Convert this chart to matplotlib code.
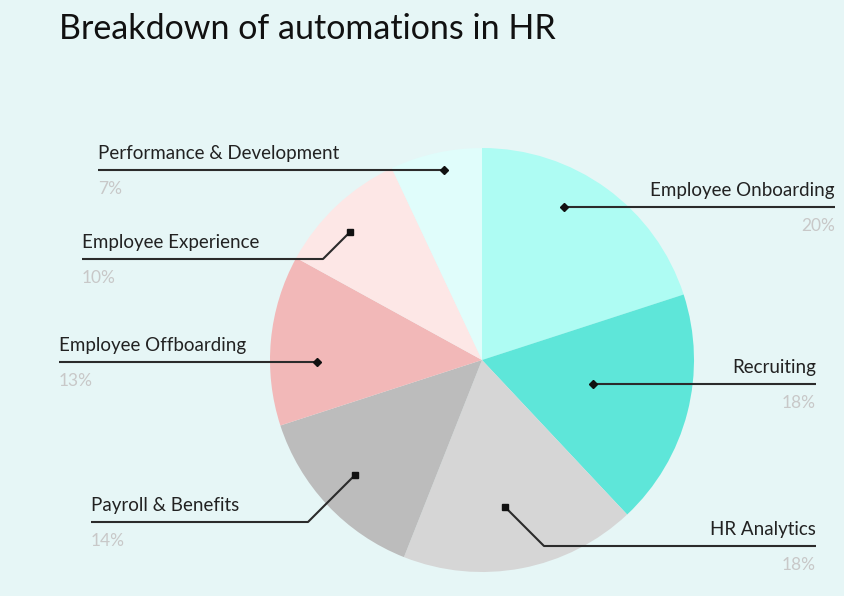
import matplotlib.pyplot as plt

labels = ["Employee Onboarding", "Recruiting", "HR Analytics", "Payroll & Benefits",
          "Employee Offboarding", "Employee Experience", "Performance & Development"]
shares = [20, 18, 18, 14, 13, 10, 7]
colors = ["#aefcf3", "#5ee6d9", "#d6d6d6", "#bcbcbc", "#f2b8b8", "#fde7e6", "#e0fdfb"]

W, H = 844, 596
BG = "#e6f6f6"


def py(y):
    # pixel row (top-down) -> axes y (bottom-up)
    return H - y


# annotation layout: marker xy, line y, text end x, side, marker style
callouts = {
    "Employee Onboarding": dict(mk=(564, 207), ly=207, tx=835, side="right", m="D"),
    "Recruiting": dict(mk=(593, 384), ly=384, tx=816, side="right", m="D"),
    "HR Analytics": dict(mk=(505, 507), ly=546, tx=816, side="right", m="s"),
    "Payroll & Benefits": dict(mk=(355, 475), ly=522, tx=91, side="left", m="s"),
    "Employee Offboarding": dict(mk=(317, 362), ly=362, tx=59, side="left", m="D"),
    "Employee Experience": dict(mk=(350, 232), ly=259, tx=82, side="left", m="s"),
    "Performance & Development": dict(mk=(444, 170), ly=170, tx=98, side="left", m="D"),
}

plt.rcParams["font.family"] = ["Lato", "DejaVu Sans"]

fig = plt.figure(figsize=(W / 100, H / 100), dpi=100, facecolor=BG)
ax = fig.add_axes([0, 0, 1, 1])
ax.set_facecolor(BG)

ax.pie(shares, colors=colors, startangle=90, counterclock=False,
       center=(482, py(360)), radius=212, wedgeprops=dict(linewidth=0))

for lab, val in zip(labels, shares):
    c = callouts[lab]
    mx, my = c["mk"]
    ly = c["ly"]
    dy = ly - my
    if c["side"] == "right":
        ex = mx + dy
    else:
        ex = mx - dy
    xs = [mx, ex, c["tx"]]
    ys = [py(my), py(ly), py(ly)]
    ax.plot(xs, ys, color="#2b2b2b", lw=1.5, solid_capstyle="butt", zorder=3)
    ax.plot([mx], [py(my)], marker=c["m"], color="#111111", ms=4.5, zorder=4)
    ha = "right" if c["side"] == "right" else "left"
    ax.text(c["tx"], py(ly - 8), lab, ha=ha, va="bottom", fontsize=13.5, color="#222222")
    ax.text(c["tx"], py(ly + 11), f"{val}%", ha=ha, va="top", fontsize=12.5, color="#c8c8c8")

ax.text(59, py(29), "Breakdown of automations in HR", ha="left", va="center",
        fontsize=24.5, color="#111111")

ax.set_xlim(0, W)
ax.set_ylim(0, H)
ax.axis("off")

fig.savefig("out.png", dpi=100, facecolor=BG)
